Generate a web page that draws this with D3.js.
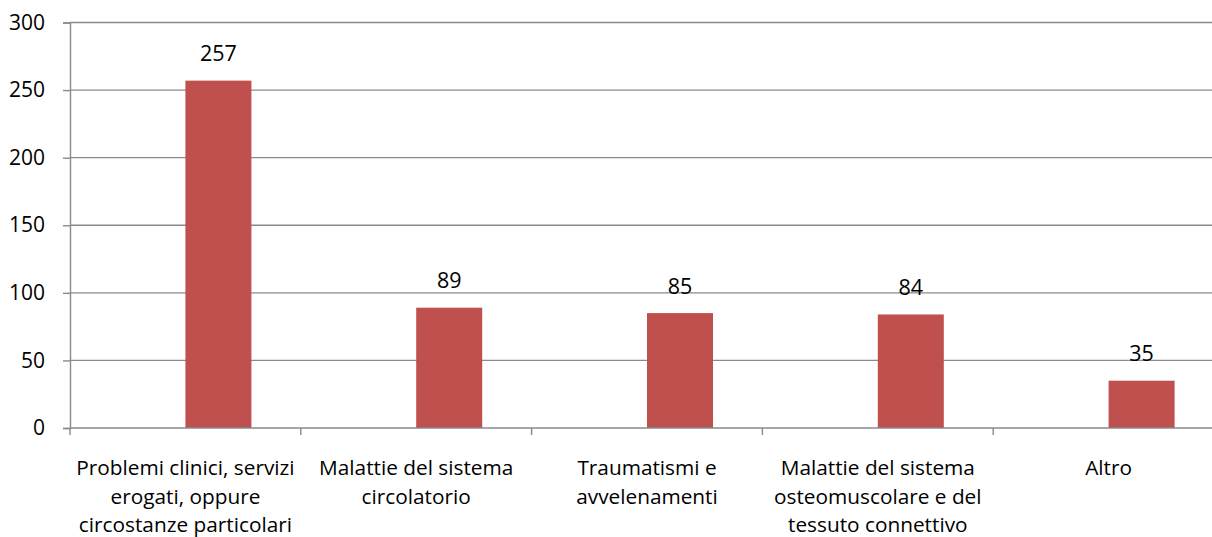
<!DOCTYPE html>
<html><head><meta charset="utf-8">
<script src="https://cdn.jsdelivr.net/npm/d3@7"></script>
<style>html,body{margin:0;padding:0;background:#fff;overflow:hidden}</style>
</head><body>
<svg id="c" width="1212" height="537"></svg>
<script>
const categories = [
  ["Problemi clinici, servizi","erogati, oppure","circostanze particolari"],
  ["Malattie del sistema","circolatorio"],
  ["Traumatismi e","avvelenamenti"],
  ["Malattie del sistema","osteomuscolare e del","tessuto connettivo"],
  ["Altro"]
];
const values = [257, 89, 85, 84, 35];
const yTicks = [0, 50, 100, 150, 200, 250, 300];

(function(){
const FONT = "'Open Sans', sans-serif";
const svg = d3.select("#c");
const mLeft = 70, mRight = 1224, mTop = 22.5, mBottom = 428;
const ids = categories.map((c,i)=>i);
const x = d3.scaleBand().domain(ids).range([mLeft, mRight]).padding(0);
const y = d3.scaleLinear().domain([0, 300]).range([mBottom, mTop]);
const bw = x.bandwidth();
const barW = bw * 0.286;

// gridlines
svg.append("g").selectAll("line").data(yTicks.filter(t=>t>0)).join("line")
  .attr("x1", mLeft).attr("x2", mRight)
  .attr("y1", d=>y(d)).attr("y2", d=>y(d))
  .attr("stroke", "#8a8a8a").attr("stroke-width", 1.4);

// bars
svg.append("g").selectAll("rect").data(values).join("rect")
  .attr("x", (d,i)=>x(i) + bw/2)
  .attr("width", barW)
  .attr("y", d=>y(d))
  .attr("height", d=>mBottom - y(d))
  .attr("fill", "#C0504D");

// y axis
const yAxis = d3.axisLeft(y).tickValues(yTicks).tickSize(7).tickPadding(18).tickFormat(d3.format("d"));
const gy = svg.append("g").attr("transform", `translate(${mLeft},0)`).call(yAxis);
gy.select(".domain").attr("stroke", "#8a8a8a").attr("stroke-width", 1.4);
gy.selectAll(".tick line").attr("stroke", "#8a8a8a").attr("stroke-width", 1.4);
gy.selectAll(".tick text").attr("font-family", FONT).attr("font-size", 21).attr("fill", "#000");

// x axis
const xTicksPos = ids.map(i=>x(i)).concat([mRight]);
svg.append("line").attr("x1", mLeft).attr("x2", mRight).attr("y1", mBottom).attr("y2", mBottom)
  .attr("stroke", "#8a8a8a").attr("stroke-width", 1.4);
svg.append("g").selectAll("line").data(xTicksPos).join("line")
  .attr("x1", d=>d).attr("x2", d=>d).attr("y1", mBottom).attr("y2", mBottom+7)
  .attr("stroke", "#8a8a8a").attr("stroke-width", 1.4);

// category labels
const lab = svg.append("g").selectAll("text").data(categories).join("text")
  .attr("font-family", FONT).attr("font-size", 20.8).attr("fill", "#000")
  .attr("text-anchor", "middle");
lab.each(function(lines, i){
  const t = d3.select(this);
  lines.forEach((ln, j)=>{
    t.append("tspan").attr("x", x(i) + bw/2).attr("y", 475 + j*28.5).text(ln);
  });
});

// value labels
svg.append("g").selectAll("text").data(values).join("text")
  .attr("x", (d,i)=>x(i) + bw/2 + barW/2)
  .attr("y", d=>y(d) - 19.5)
  .attr("text-anchor", "middle")
  .attr("font-family", FONT).attr("font-size", 21.5).attr("fill", "#000")
  .text(d=>d);
})();
</script>
</body></html>
